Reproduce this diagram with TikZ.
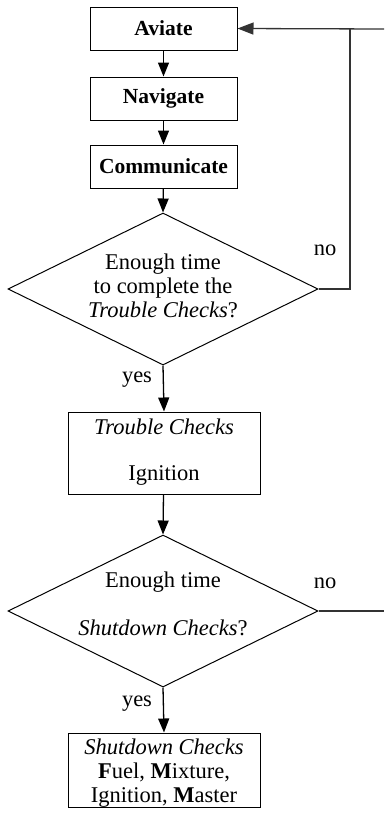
\documentclass[tikz,border=0pt]{standalone}
\usepackage{fontspec}
\setmainfont{Liberation Serif}
\usetikzlibrary{arrows.meta,shapes.geometric}
\begin{document}
\begin{tikzpicture}[x=1pt,y=-1pt,
  box/.style={draw,line width=1pt,rectangle,inner sep=0pt,minimum width=147pt,minimum height=43pt,font=\fontsize{21.5}{24}\selectfont\bfseries},
  tbox/.style={draw,line width=1pt,rectangle,inner sep=0pt,minimum width=192pt,align=center},
  dia/.style={draw,line width=1pt,diamond,inner sep=0pt,minimum width=310pt,minimum height=152pt},
  lbl/.style={inner sep=0pt,align=center,font=\fontsize{22.5}{24}\selectfont},
  arr/.style={line width=1.3pt,-{Triangle[length=14pt,width=11pt]}},
  fb/.style={line width=1.3pt,draw=black!80}
]
\useasboundingbox (0,0) rectangle (384,817);
\node[box] (av) at (163.5,28.5) {Aviate};
\node[box] (nav) at (163.5,98.5) {Navigate};
\node[box] (com) at (163.5,166.5) {Communicate};
\node[dia] (d1) at (163,289) {};
\node[lbl] (t1) at (163,286) {Enough time\\to complete the\\\textit{Trouble Checks}?};
\node[lbl] (no1) at (325,250) {no};
\node[lbl] (yes1) at (137,380) {yes};
\node[tbox,minimum height=82pt] (tc) at (164,453) {};
\node[lbl] (tct) at (164,427) {\textit{Trouble Checks}};
\node[lbl] (ign) at (164,475) {Ignition};
\node[dia] (d2) at (163,611) {};
\node[lbl] (t2a) at (163,582) {Enough time};
\node[lbl] (t2b) at (163,628) {\textit{Shutdown Checks}?};
\node[lbl] (no2) at (325,583) {no};
\node[lbl] (yes2) at (137,704) {yes};
\node[tbox,minimum height=74pt] (sc) at (164,770) {};
\node[lbl] (sct) at (164,773) {\textit{Shutdown Checks}\\\textbf{F}uel, \textbf{M}ixture,\\Ignition, \textbf{M}aster};
\coordinate (j) at (350,29);
\coordinate (rt) at (384,29);
\coordinate (rt2) at (384,611);
\draw[arr] (av) -- (nav);
\draw[arr] (nav) -- (com);
\draw[arr] (com) -- (d1.north);
\draw[arr] (d1.south) -- (tc.north);
\draw[arr] (tc) -- (d2.north);
\draw[arr] (d2.south) -- (sc.north);
\draw[fb] (d1.east) -| (j);
\draw[fb,-{Triangle[length=16pt,width=12pt]}] (rt) -- (av.east);
\draw[fb] (d2.east) -- (rt2);
\end{tikzpicture}
\end{document}
